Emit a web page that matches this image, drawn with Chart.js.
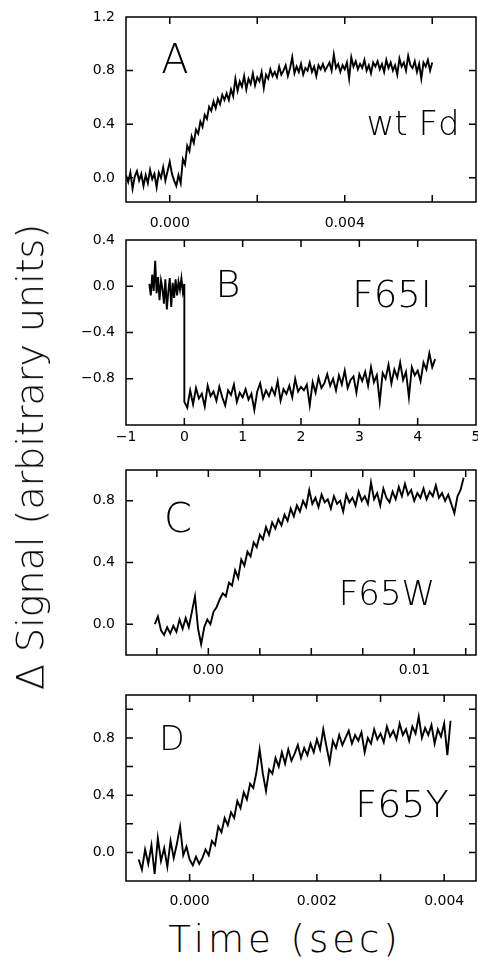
<!DOCTYPE html>
<html lang="en">
<head>
<meta charset="UTF-8">
<title>Signal transients</title>
<script src="https://cdn.jsdelivr.net/npm/chart.js"></script>
<style>
    body {
        margin: 0;
        width: 478px;
        height: 961px;
        position: relative;
        overflow: hidden;
        background: #fff;
        font-family: "DejaVu Sans", sans-serif;
        color: #000;
    }
    canvas { position: absolute; left: 0; }
    #ytitle {
        position: absolute;
        left: 30px;
        top: 457px;
        transform: translate(-50%, -50%) rotate(-90deg);
        white-space: nowrap;
        font-size: 38px;
        font-weight: 200;
        line-height: 1;
    }
    #xtitle {
        position: absolute;
        left: 285px;
        top: 921px;
        transform: translateX(-50%);
        white-space: nowrap;
        font-size: 37px;
        font-weight: 200;
        letter-spacing: 4px;
        line-height: 1;
    }
</style>
</head>
<body>
<canvas id="panelA" width="478" height="232" style="top:0px"></canvas>
<canvas id="panelB" width="478" height="228" style="top:232px"></canvas>
<canvas id="panelC" width="478" height="225" style="top:460px"></canvas>
<canvas id="panelD" width="478" height="225" style="top:685px"></canvas>
<div id="ytitle">Δ Signal (arbitrary units)</div>
<div id="xtitle">Time (sec)</div>

<script>
// ---- data ----
// A: wt Fd, sampled every 0.05 ms starting at -1 ms
const startA = -0.001, stepA = 0.00005;
const signalA = [
    0.02, -0.03, 0.04, -0.08, 0.01, 0.05, -0.02, 0.03, -0.06, 0.02,
    -0.04, 0.06, -0.01, 0.03, -0.07, 0.04, 0.00, 0.08, -0.02, 0.05,
    0.12, 0.03, -0.02, -0.06, 0.02, -0.04, 0.14, 0.10, 0.24, 0.20,
    0.31, 0.26, 0.36, 0.33, 0.42, 0.38, 0.47, 0.44, 0.53, 0.50,
    0.57, 0.52, 0.59, 0.55, 0.62, 0.58, 0.63, 0.58, 0.66, 0.61,
    0.74, 0.65, 0.72, 0.68, 0.76, 0.66, 0.74, 0.70, 0.78, 0.69,
    0.75, 0.72, 0.79, 0.67, 0.77, 0.74, 0.81, 0.76, 0.79, 0.75,
    0.83, 0.77, 0.80, 0.84, 0.76, 0.82, 0.90, 0.78, 0.83, 0.79,
    0.85, 0.77, 0.82, 0.80, 0.86, 0.79, 0.83, 0.76, 0.84, 0.81,
    0.85, 0.80, 0.83, 0.86, 0.80, 0.92, 0.82, 0.85, 0.79, 0.84,
    0.81, 0.86, 0.74, 0.90, 0.83, 0.87, 0.81, 0.85, 0.82, 0.88,
    0.80, 0.84, 0.78, 0.86, 0.83, 0.87, 0.81, 0.85, 0.79, 0.88,
    0.82, 0.86, 0.80, 0.84, 0.77, 0.89, 0.83, 0.86, 0.80, 0.91,
    0.84, 0.82, 0.87, 0.79, 0.85, 0.74, 0.86, 0.83, 0.88, 0.80,
    0.86
];

// B: F65I, before the jump (every 0.025 s from -0.6) and after it (every 0.05 s from 0)
const startPreB = -0.6, stepPreB = 0.025;
const signalPreB = [
    0.02, -0.08, 0.10, -0.04, 0.22, -0.06, 0.08, -0.12, 0.05, -0.02,
    -0.15, 0.06, -0.20, -0.05, 0.07, -0.18, 0.03, -0.10, 0.06, -0.08,
    0.04, -0.03, 0.07, -0.05, 0.02
];
const startPostB = 0, stepPostB = 0.05;
const signalPostB = [
    -1.00,
    -1.05, -0.90, -1.02, -0.88, -0.97, -0.93, -1.04, -0.86, -0.95, -0.91,
    -0.99, -0.87, -0.96, -1.03, -0.90, -0.94, -0.85, -1.00, -0.92, -0.96,
    -0.89, -0.98, -0.93, -1.07, -0.91, -0.84, -0.97, -0.90, -0.95, -0.88,
    -0.94, -0.82, -0.99, -0.89, -0.93, -0.86, -0.96, -0.80, -0.91, -0.87,
    -0.90, -0.85, -1.03, -0.83, -0.92, -0.79, -0.88, -0.84, -0.76, -0.86,
    -0.80, -0.90, -0.77, -0.85, -0.73, -0.88, -0.81, -0.78, -0.92, -0.76,
    -0.82, -0.74, -0.86, -0.70, -0.83, -0.77, -1.00, -0.75, -0.80, -0.68,
    -0.84, -0.72, -0.79, -0.66, -0.81, -0.74, -0.96, -0.70, -0.77, -0.73,
    -0.82, -0.66, -0.72, -0.58, -0.70, -0.63
];

// C: F65W, every 0.15 ms from -2.6 ms
const startC = -0.0026, stepC = 0.00015;
const signalC = [
    0.00, 0.05, -0.04, -0.07, -0.02, -0.06, -0.01, -0.05, 0.03, -0.03,
    0.04, -0.02, 0.08, 0.18, -0.03, -0.13, -0.02, 0.03, 0.00, 0.08,
    0.11, 0.16, 0.20, 0.18, 0.27, 0.25, 0.35, 0.30, 0.42, 0.38,
    0.47, 0.44, 0.53, 0.50, 0.58, 0.55, 0.63, 0.58, 0.66, 0.62,
    0.68, 0.64, 0.71, 0.67, 0.75, 0.70, 0.77, 0.73, 0.80, 0.76,
    0.87, 0.78, 0.82, 0.76, 0.84, 0.79, 0.81, 0.75, 0.83, 0.78,
    0.80, 0.73, 0.84, 0.79, 0.82, 0.77, 0.86, 0.80, 0.83, 0.78,
    0.92, 0.81, 0.85, 0.77, 0.88, 0.82, 0.79, 0.86, 0.81, 0.89,
    0.83, 0.91, 0.84, 0.87, 0.80, 0.85, 0.82, 0.88, 0.81, 0.86,
    0.83, 0.90, 0.82, 0.85, 0.80, 0.84, 0.78, 0.72, 0.83, 0.87,
    0.95
];

// D: F65Y, every 0.05 ms from -0.8 ms
const startD = -0.0008, stepD = 0.00005;
const signalD = [
    -0.05, -0.12, 0.02, -0.08, 0.05, -0.15, 0.10, -0.06, 0.03, -0.10,
    0.08, -0.04, 0.06, 0.18, -0.02, 0.04, -0.05, -0.09, -0.03, -0.08,
    -0.04, 0.02, -0.02, 0.08, 0.05, 0.18, 0.14, 0.24, 0.19, 0.28,
    0.24, 0.36, 0.31, 0.42, 0.37, 0.48, 0.45, 0.56, 0.72, 0.55,
    0.43, 0.58, 0.55, 0.66, 0.60, 0.70, 0.62, 0.72, 0.64, 0.69,
    0.75, 0.66, 0.73, 0.68, 0.76, 0.70, 0.79, 0.72, 0.86, 0.74,
    0.63, 0.78, 0.73, 0.82, 0.75, 0.80, 0.85, 0.76, 0.82, 0.78,
    0.84, 0.70, 0.80, 0.76, 0.86, 0.79, 0.83, 0.77, 0.88, 0.81,
    0.85, 0.79, 0.90, 0.82, 0.86, 0.78, 0.88, 0.83, 0.95, 0.80,
    0.87, 0.82, 0.89, 0.76, 0.86, 0.81, 0.90, 0.68, 0.92
];

// axis ticks and their labels ('' = unlabelled tick)
const xTicksA = [0, 0.002, 0.004, 0.006];
const xLabelsA = ['0.000', '', '0.004', ''];
const yTicksA = [0, 0.4, 0.8, 1.2];
const yLabelsA = ['0.0', '0.4', '0.8', '1.2'];

const xTicksB = [-1, 0, 1, 2, 3, 4, 5];
const xLabelsB = ['\u22121', '0', '1', '2', '3', '4', '5'];
const yTicksB = [-1.2, -0.8, -0.4, 0, 0.4];
const yLabelsB = ['', '\u22120.8', '\u22120.4', '0.0', '0.4'];

const xTicksC = [-0.0025, 0, 0.0025, 0.005, 0.0075, 0.01, 0.0125];
const xLabelsC = ['', '0.00', '', '', '', '0.01', ''];
const yTicksC = [0, 0.4, 0.8];
const yLabelsC = ['0.0', '0.4', '0.8'];

const xTicksD = [0, 0.001, 0.002, 0.003, 0.004];
const xLabelsD = ['0.000', '', '0.002', '', '0.004'];
const yTicksD = [0, 0.2, 0.4, 0.6, 0.8, 1.0];
const yLabelsD = ['0.0', '', '0.4', '', '0.8', ''];

function toPoints(start, step, values) {
    return values.map((v, i) => ({ x: start + i * step, y: v }));
}

// closed frame with inward ticks on all four sides
const framePlugin = {
    id: 'frame',
    afterDraw(chart) {
        const { ctx, chartArea: a, scales } = chart;
        const len = 7;
        ctx.save();
        ctx.strokeStyle = '#000';
        ctx.lineWidth = 1.5;
        ctx.strokeRect(a.left, a.top, a.right - a.left, a.bottom - a.top);
        ctx.beginPath();
        scales.x.ticks.forEach(t => {
            const px = scales.x.getPixelForValue(t.value);
            if (px <= a.left + 1 || px >= a.right - 1) return;
            ctx.moveTo(px, a.bottom); ctx.lineTo(px, a.bottom - len);
            ctx.moveTo(px, a.top); ctx.lineTo(px, a.top + len);
        });
        scales.y.ticks.forEach(t => {
            const py = scales.y.getPixelForValue(t.value);
            if (py <= a.top + 1 || py >= a.bottom - 1) return;
            ctx.moveTo(a.left, py); ctx.lineTo(a.left + len, py);
            ctx.moveTo(a.right, py); ctx.lineTo(a.right - len, py);
        });
        ctx.stroke();

        // panel letter and mutant name
        const items = chart.options.plugins.frame.labels || [];
        ctx.fillStyle = '#000';
        ctx.textAlign = 'center';
        ctx.textBaseline = 'alphabetic';
        items.forEach(it => {
            ctx.font = '200 ' + it.size + 'px "DejaVu Sans"';
            ctx.fillText(it.text, it.x, it.y);
        });
        ctx.restore();
    }
};

function makePanel(id, p) {
    const canvas = document.getElementById(id);
    const h = canvas.height;
    const tickFont = { family: 'DejaVu Sans', size: 14 };
    return new Chart(canvas.getContext('2d'), {
        type: 'line',
        data: {
            datasets: [{
                data: p.points,
                borderColor: '#000',
                borderWidth: 1.9,
                pointRadius: 0,
                tension: 0,
                fill: false
            }]
        },
        options: {
            responsive: false,
            animation: false,
            events: [],
            layout: { padding: { left: 0, right: 2, top: p.top, bottom: 0 } },
            plugins: {
                legend: { display: false },
                tooltip: { enabled: false },
                frame: { labels: p.labels }
            },
            scales: {
                x: {
                    type: 'linear',
                    min: p.xMin, max: p.xMax,
                    grid: { display: false, drawTicks: false },
                    border: { display: false },
                    afterBuildTicks: s => { s.ticks = p.xTicks.map(v => ({ value: v })); },
                    afterFit: s => { s.height = h - p.bottom; s.paddingLeft = 0; s.paddingRight = 0; },
                    ticks: {
                        autoSkip: false,
                        maxRotation: 0,
                        padding: p.xPad,
                        color: '#000',
                        font: tickFont,
                        callback: (v, i) => p.xLabels[i]
                    }
                },
                y: {
                    type: 'linear',
                    min: p.yMin, max: p.yMax,
                    grid: { display: false, drawTicks: false },
                    border: { display: false },
                    afterBuildTicks: s => { s.ticks = p.yTicks.map(v => ({ value: v })); },
                    afterFit: s => { s.width = 126; s.paddingTop = 0; s.paddingBottom = 0; },
                    ticks: {
                        autoSkip: false,
                        padding: 11,
                        color: '#000',
                        font: tickFont,
                        callback: (v, i) => p.yLabels[i]
                    }
                }
            }
        },
        plugins: [framePlugin]
    });
}

makePanel('panelA', {
    points: toPoints(startA, stepA, signalA),
    top: 17, bottom: 202, xPad: 13,
    xMin: -0.001, xMax: 0.007, yMin: -0.18, yMax: 1.2,
    xTicks: xTicksA, xLabels: xLabelsA, yTicks: yTicksA, yLabels: yLabelsA,
    labels: [
        { text: 'A', x: 175, y: 73, size: 40 },
        { text: 'wt Fd', x: 413, y: 135, size: 34 }
    ]
});

makePanel('panelB', {
    points: toPoints(startPreB, stepPreB, signalPreB).concat(toPoints(startPostB, stepPostB, signalPostB)),
    top: 8, bottom: 193, xPad: 4,
    xMin: -1, xMax: 5, yMin: -1.2, yMax: 0.4,
    xTicks: xTicksB, xLabels: xLabelsB, yTicks: yTicksB, yLabels: yLabelsB,
    labels: [
        { text: 'B', x: 228, y: 65, size: 38 },
        { text: 'F65I', x: 392, y: 75, size: 37 }
    ]
});

makePanel('panelC', {
    points: toPoints(startC, stepC, signalC),
    top: 10, bottom: 195, xPad: 7,
    xMin: -0.004, xMax: 0.013, yMin: -0.2, yMax: 1.0,
    xTicks: xTicksC, xLabels: xLabelsC, yTicks: yTicksC, yLabels: yLabelsC,
    labels: [
        { text: 'C', x: 178, y: 72, size: 40 },
        { text: 'F65W', x: 387, y: 145, size: 34 }
    ]
});

makePanel('panelD', {
    points: toPoints(startD, stepD, signalD),
    top: 10, bottom: 196, xPad: 12,
    xMin: -0.001, xMax: 0.0045, yMin: -0.2, yMax: 1.1,
    xTicks: xTicksD, xLabels: xLabelsD, yTicks: yTicksD, yLabels: yLabelsD,
    labels: [
        { text: 'D', x: 172, y: 65, size: 33 },
        { text: 'F65Y', x: 402, y: 132, size: 38 }
    ]
});
</script>
</body>
</html>
